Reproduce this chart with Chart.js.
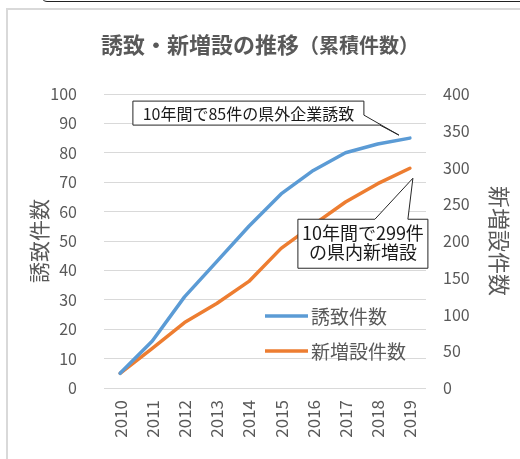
<!DOCTYPE html>
<html><head><meta charset="utf-8">
<script src="https://cdn.jsdelivr.net/npm/chart.js@4/dist/chart.umd.min.js"></script>
<style>
html,body{margin:0;padding:0;background:#fff;width:520px;height:459px;overflow:hidden;position:relative;}
#topbox{position:absolute;left:41px;top:-30px;width:600px;height:30px;border:1.5px solid #222;border-radius:6px;}
#frame{position:absolute;left:6px;top:8px;width:600px;height:500px;border:2px solid #d9d9d9;}
#c{position:absolute;left:0;top:0;}
</style></head>
<body>
<div id="topbox"></div>
<div id="frame"></div>
<canvas id="c" width="520" height="459"></canvas>
<script>
const categories = ['2010','2011','2012','2013','2014','2015','2016','2017','2018','2019'];
const inviteCounts = [5, 16, 31, 43, 55, 66, 74, 80, 83, 85];      // 誘致件数 (left axis)
const newCounts = [20, 54, 89, 115, 145, 190, 222, 253, 278, 299]; // 新増設件数 (right axis)
const seriesNames = ['誘致件数', '新増設件数'];
const seriesColors = ['#5b9bd5', '#ed7d31'];
const titleMain = '誘致・新増設の推移';
const titleSub = '（累積件数）';
const leftAxisTitle = '誘致件数';
const rightAxisTitle = '新増設件数';
const callout1 = ['10年間で85件の県外企業誘致'];
const callout2 = ['10年間で299件', 'の県内新増設'];

const FONT = '"Noto Sans CJK JP", "Noto Sans", sans-serif';
const GRAY = '#595959';

const titlePlugin = {
  id: 'mixedTitle',
  afterDraw(chart) {
    const ctx = chart.ctx;
    ctx.save();
    ctx.fillStyle = GRAY;
    ctx.textBaseline = 'alphabetic';
    ctx.textAlign = 'left';
    const f1 = 'bold 22px ' + FONT, f2 = 'bold 20px ' + FONT;
    ctx.font = f1; const w1 = ctx.measureText(titleMain).width;
    ctx.font = f2; const w2 = ctx.measureText(titleSub).width;
    const cx = chart.width / 2;
    const x = cx - (w1 + w2) / 2;
    const base = 53;
    ctx.font = f1; ctx.fillText(titleMain, x, base);
    ctx.font = f2; ctx.fillText(titleSub, x + w1, base);
    ctx.restore();
  }
};

const legendPlugin = {
  id: 'innerLegend',
  afterDraw(chart) {
    const ctx = chart.ctx, a = chart.chartArea;
    ctx.save();
    ctx.font = '19px ' + FONT;
    ctx.textBaseline = 'middle';
    ctx.textAlign = 'left';
    chart.data.datasets.forEach((ds, i) => {
      const y = a.top + 222 + i * 35;
      const x0 = a.left + 161;
      ctx.strokeStyle = ds.borderColor;
      ctx.lineWidth = 3.5;
      ctx.beginPath(); ctx.moveTo(x0, y); ctx.lineTo(x0 + 43, y); ctx.stroke();
      ctx.fillStyle = GRAY;
      ctx.fillText(ds.label, x0 + 46, y + 1);
    });
    ctx.restore();
  }
};

const calloutPlugin = {
  id: 'callouts',
  afterDatasetsDraw(chart) {
    const ctx = chart.ctx;
    const sx = chart.scales.x, sy = chart.scales.y, sy1 = chart.scales.y1;
    const last = categories.length - 1;
    const px = sx.getPixelForValue(last);
    const pb = sy.getPixelForValue(inviteCounts[last]);
    const po = sy1.getPixelForValue(newCounts[last]);
    ctx.save();
    ctx.lineWidth = 1;
    ctx.strokeStyle = '#262626';
    ctx.fillStyle = '#fff';
    // callout 1
    let L = px - 277, T = pb - 37, R = px - 46, B = pb - 13;
    ctx.beginPath();
    ctx.moveTo(L, T); ctx.lineTo(R, T); ctx.lineTo(R, pb - 23);
    ctx.lineTo(px - 11, pb - 3); ctx.lineTo(px - 30, B); ctx.lineTo(L, B); ctx.closePath();
    ctx.fill(); ctx.stroke();
    ctx.fillStyle = '#1a1a1a';
    ctx.font = '16px ' + FONT;
    ctx.textAlign = 'center'; ctx.textBaseline = 'middle';
    ctx.fillText(callout1[0], (L + R) / 2, (T + B) / 2 + 1);
    // callout 2
    L = px - 112; T = po + 51; R = px + 18; B = po + 100;
    ctx.fillStyle = '#fff';
    ctx.beginPath();
    ctx.moveTo(L, T); ctx.lineTo(px - 35, T); ctx.lineTo(px + 3, po + 10);
    ctx.lineTo(px - 2, T); ctx.lineTo(R, T); ctx.lineTo(R, B); ctx.lineTo(L, B); ctx.closePath();
    ctx.fill(); ctx.stroke();
    ctx.fillStyle = '#1a1a1a';
    ctx.font = '18px ' + FONT;
    ctx.fillText(callout2[0], (L + R) / 2, T + 14);
    ctx.fillText(callout2[1], (L + R) / 2, T + 33);
    ctx.restore();
  }
};

new Chart(document.getElementById('c'), {
  type: 'line',
  data: {
    labels: categories,
    datasets: [
      { label: seriesNames[0], data: inviteCounts, yAxisID: 'y', borderColor: seriesColors[0], backgroundColor: seriesColors[0], borderWidth: 3.5, pointRadius: 0, tension: 0, borderCapStyle: 'round', borderJoinStyle: 'round' },
      { label: seriesNames[1], data: newCounts, yAxisID: 'y1', borderColor: seriesColors[1], backgroundColor: seriesColors[1], borderWidth: 3.5, pointRadius: 0, tension: 0, borderCapStyle: 'round', borderJoinStyle: 'round' }
    ]
  },
  options: {
    responsive: false,
    animation: false,
    devicePixelRatio: 1,
    layout: { padding: { top: 94, left: 0, right: 0, bottom: 0 } },
    plugins: { legend: { display: false }, title: { display: false }, tooltip: { enabled: false } },
    scales: {
      x: {
        type: 'category', offset: true,
        grid: { display: false, drawTicks: false },
        border: { display: false },
        ticks: { color: GRAY, font: { family: FONT, size: 17 }, minRotation: 90, maxRotation: 90, padding: 12, autoSkip: false },
        afterFit(s) { s.height = 71; }
      },
      y: {
        position: 'left', min: 0, max: 100,
        grid: { color: '#d9d9d9', lineWidth: 1, drawTicks: false },
        border: { display: false },
        ticks: { stepSize: 10, color: GRAY, font: { family: FONT, size: 16 }, padding: 27 },
        title: { display: true, text: leftAxisTitle, color: GRAY, font: { family: FONT, size: 21 }, padding: { top: 26, bottom: 0 } },
        afterFit(s) { s.width = 104; }
      },
      y1: {
        position: 'right', min: 0, max: 400,
        grid: { display: false, drawTicks: false },
        border: { display: false },
        ticks: { stepSize: 50, color: GRAY, font: { family: FONT, size: 16 }, padding: 17 },
        title: { display: true, text: rightAxisTitle, color: GRAY, font: { family: FONT, size: 22 }, padding: { top: 7, bottom: 0 } },
        afterFit(s) { s.width = 94; }
      }
    }
  },
  plugins: [titlePlugin, legendPlugin, calloutPlugin]
});
</script>
</body></html>
